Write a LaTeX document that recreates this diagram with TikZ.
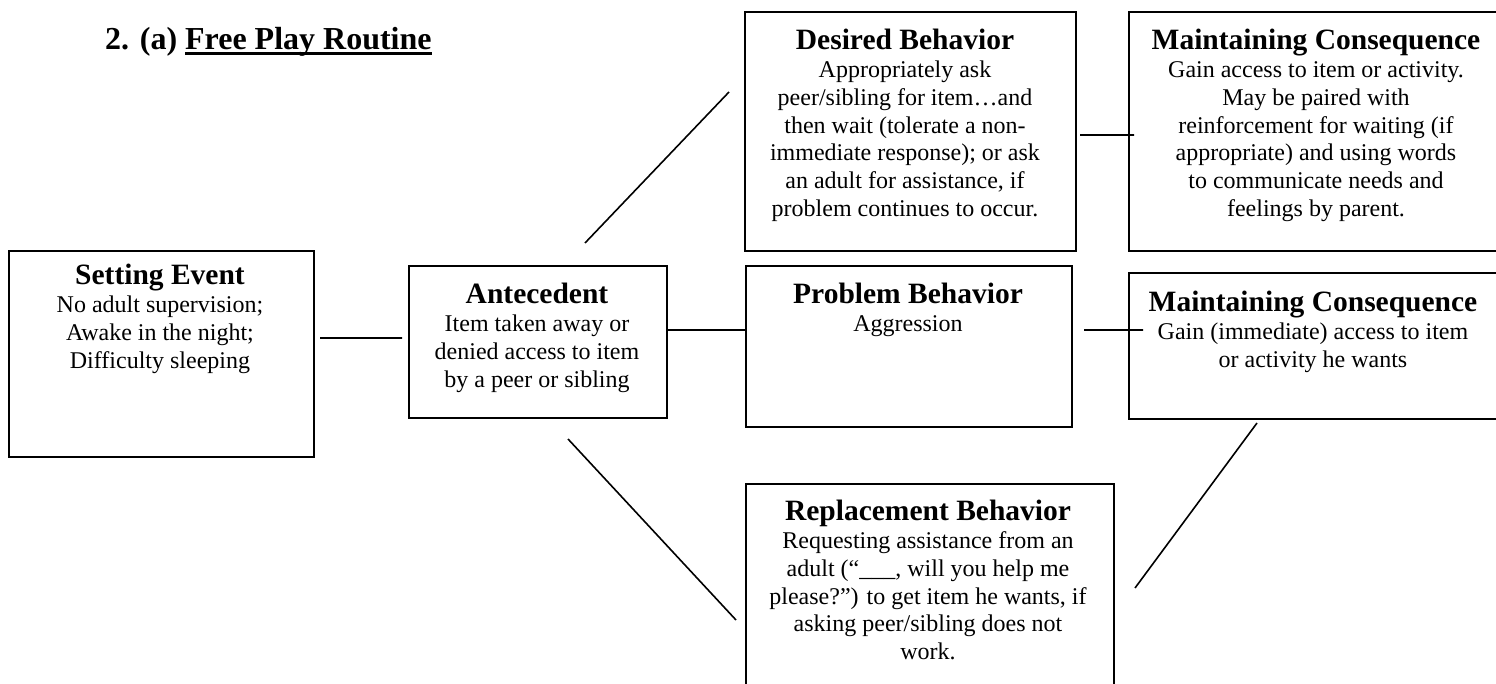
\documentclass[tikz,border=0pt]{standalone}
\usepackage{fontspec}
\setmainfont{Liberation Serif}
\usepackage{tikz}
\def\hd#1{{\fontsize{29.5}{31}\selectfont\bfseries #1}}
\def\ulin#1{\setbox0=\hbox{#1}\rlap{\rule[-5.5pt]{\wd0}{3.2pt}}\box0}
\tikzset{bx/.style={draw, line width=2pt, inner sep=0pt, anchor=north west},
  txt/.style={anchor=north, align=center, inner sep=0pt, font=\fontsize{24}{27.8}\selectfont}}

\begin{document}
\begin{tikzpicture}[x=1pt, y=-1pt]
        \useasboundingbox (0,0) rectangle (1496,684);
        \clip (0,0) rectangle (1496,684);
        \node[anchor=base west, inner sep=0pt, font=\fontsize{32}{36}\selectfont\bfseries] (title) at (105,50) {2. (a) \ulin{Free Play Routine}};
        % boxes
        \node[bx, minimum width=305pt, minimum height=206pt] (setev) at (8,250) {};
        \node[bx, minimum width=258pt, minimum height=152pt] (ante) at (408,265) {};
        \node[bx, minimum width=331pt, minimum height=239pt] (desir) at (744,11) {};
        \node[bx, minimum width=326pt, minimum height=161pt] (prob) at (745,265) {};
        \node[bx, minimum width=368pt, minimum height=217pt] (repl) at (745,483) {};
        \node[bx, minimum width=382pt, minimum height=239pt] (mcA) at (1128,11) {};
        \node[bx, minimum width=382pt, minimum height=146pt] (mcB) at (1128,272) {};
        % texts
        \node[txt] (setevT) at (160,264) {\hd{Setting Event}\\No adult supervision;\\Awake in the night;\\Difficulty sleeping};
        \node[txt] (anteT) at (537,283) {\hd{Antecedent}\\Item taken away or\\denied access to item\\by a peer or sibling};
        \node[txt] (desirT) at (905,29) {\hd{Desired Behavior}\\Appropriately ask\\peer/sibling for item…and\\then wait (tolerate a non-\\immediate response); or ask\\an adult for assistance, if\\problem continues to occur.};
        \node[txt] (probT) at (908,283) {\hd{Problem Behavior}\\Aggression};
        \node[txt] (replT) at (928,500) {\hd{Replacement Behavior}\\Requesting assistance from an\\adult (“\_\_\_, will you help me\\please?”) to get item he wants, if\\asking peer/sibling does not\\work.};
        \node[txt] (mcAT) at (1316,29) {\hd{Maintaining Consequence}\\Gain access to item or activity.\\May be paired with\\reinforcement for waiting (if\\appropriate) and using words\\to communicate needs and\\feelings by parent.};
        \node[txt] (mcBT) at (1313,291) {\hd{Maintaining Consequence}\\Gain (immediate) access to item\\or activity he wants};
        % connectors
        \coordinate (s1) at (320,338);
        \coordinate (s2) at (402,338);
        \coordinate (a1) at (666,330);
        \coordinate (a2) at (745,330);
        \coordinate (d1) at (585,243);
        \coordinate (d2) at (729,92);
        \coordinate (r1) at (568,439);
        \coordinate (r2) at (736,620);
        \coordinate (m1) at (1080,135);
        \coordinate (m2) at (1134,135);
        \coordinate (p1) at (1084,330);
        \coordinate (p2) at (1143,330);
        \coordinate (q1) at (1135,588);
        \coordinate (q2) at (1257,423);
        \draw[line width=1.6pt] (s1) -- (s2) (a1) -- (a2) (d1) -- (d2) (r1) -- (r2) (m1) -- (m2) (p1) -- (p2) (q1) -- (q2);
      \end{tikzpicture}
\end{document}
